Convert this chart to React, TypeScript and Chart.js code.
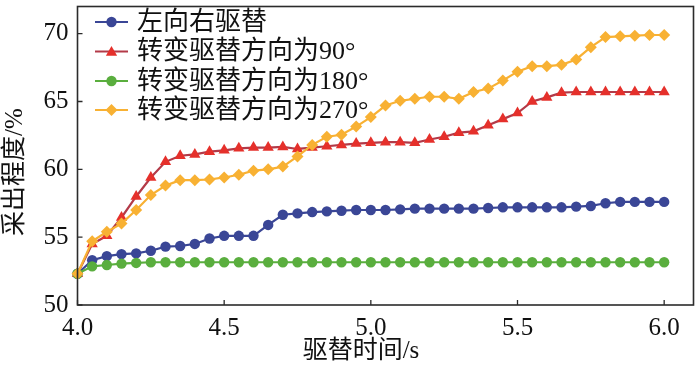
import React, { useEffect, useRef } from 'react';
import { Chart, registerables } from 'chart.js';

Chart.register(...registerables);

// ---- data ----
const timeS = [
  4.0, 4.05, 4.1, 4.15, 4.2, 4.25, 4.3, 4.35, 4.4, 4.45,
  4.5, 4.55, 4.6, 4.65, 4.7, 4.75, 4.8, 4.85, 4.9, 4.95,
  5.0, 5.05, 5.1, 5.15, 5.2, 5.25, 5.3, 5.35, 5.4, 5.45,
  5.5, 5.55, 5.6, 5.65, 5.7, 5.75, 5.8, 5.85, 5.9, 5.95, 6.0,
];

const seriesNames = ['左向右驱替', '转变驱替方向为90°', '转变驱替方向为180°', '转变驱替方向为270°'];

const leftToRight = [
  52.3, 53.3, 53.6, 53.75, 53.8, 54.0, 54.3, 54.35, 54.5, 54.9,
  55.1, 55.1, 55.1, 55.9, 56.65, 56.75, 56.85, 56.9, 56.95, 57.0,
  57.0, 57.0, 57.05, 57.1, 57.1, 57.1, 57.1, 57.1, 57.15, 57.2,
  57.2, 57.2, 57.2, 57.2, 57.25, 57.3, 57.5, 57.6, 57.6, 57.6, 57.6,
];

const turn90 = [
  52.3, 54.5, 55.1, 56.45, 58.0, 59.4, 60.55, 61.0, 61.1, 61.3,
  61.4, 61.55, 61.6, 61.6, 61.65, 61.5, 61.6, 61.7, 61.8, 61.9,
  61.95, 62.0, 62.0, 61.95, 62.2, 62.4, 62.7, 62.8, 63.25, 63.7,
  64.15, 65.0, 65.3, 65.65, 65.7, 65.7, 65.7, 65.7, 65.7, 65.7, 65.7,
];

const turn180 = [
  52.3, 52.85, 52.95, 53.05, 53.1, 53.15, 53.15, 53.15, 53.15, 53.15,
  53.15, 53.15, 53.15, 53.15, 53.15, 53.15, 53.15, 53.15, 53.15, 53.15,
  53.15, 53.15, 53.15, 53.15, 53.15, 53.15, 53.15, 53.15, 53.15, 53.15,
  53.15, 53.15, 53.15, 53.15, 53.15, 53.15, 53.15, 53.15, 53.15, 53.15, 53.15,
];

const turn270 = [
  52.3, 54.7, 55.4, 56.0, 57.0, 58.1, 58.8, 59.2, 59.2, 59.25,
  59.4, 59.6, 59.9, 60.0, 60.2, 60.95, 61.8, 62.4, 62.55, 63.15,
  63.85, 64.7, 65.05, 65.2, 65.35, 65.35, 65.2, 65.7, 65.95, 66.55,
  67.2, 67.6, 67.6, 67.7, 68.1, 69.0, 69.75, 69.8, 69.85, 69.9, 69.9,
];

const xTicks = [4.0, 4.5, 5.0, 5.5, 6.0];
const yTicks = [50, 55, 60, 65, 70];
const xTitle = '驱替时间/s';
const yTitle = '采出程度/%';

// ---- styles ----
const FONT_FAMILY = "'Liberation Serif', 'Times New Roman', 'Noto Sans CJK SC', serif";
const styles = [
  { line: '#3a4696', fill: '#3a4696', shape: 'circle', radius: 5.2 },
  { line: '#b33a48', fill: '#e5302b', shape: 'triangle', radius: 6.5 },
  { line: '#5aae3e', fill: '#5aae3e', shape: 'circle', radius: 5.2 },
  { line: '#f8b133', fill: '#f8b133', shape: 'rectRot', radius: 6 },
];
const seriesValues = [leftToRight, turn90, turn180, turn270];

function drawMarker(ctx: CanvasRenderingContext2D, shape: string, x: number, y: number, r: number, color: string) {
  ctx.save();
  ctx.fillStyle = color;
  ctx.beginPath();
  if (shape === 'circle') {
    ctx.arc(x, y, r, 0, Math.PI * 2);
  } else if (shape === 'triangle') {
    for (let k = 0; k < 3; k++) {
      const a = (k * 2 * Math.PI) / 3;
      const px = x + Math.sin(a) * r;
      const py = y - Math.cos(a) * r;
      if (k === 0) ctx.moveTo(px, py);
      else ctx.lineTo(px, py);
    }
    ctx.closePath();
  } else {
    ctx.moveTo(x, y - r);
    ctx.lineTo(x + r, y);
    ctx.lineTo(x, y + r);
    ctx.lineTo(x - r, y);
    ctx.closePath();
  }
  ctx.fill();
  ctx.restore();
}

const decorPlugin = {
  id: 'decor',
  afterDraw(chart: any) {
    const ctx: CanvasRenderingContext2D = chart.ctx;
    const area = chart.chartArea;
    const xs = chart.scales.x;
    const ys = chart.scales.y;
    ctx.save();
    // frame
    ctx.strokeStyle = '#2b2b2b';
    ctx.lineWidth = 1.6;
    ctx.strokeRect(area.left, area.top, area.right - area.left, area.bottom - area.top);
    // inward ticks
    ctx.beginPath();
    xTicks.forEach((t) => {
      const px = xs.getPixelForValue(t);
      ctx.moveTo(px, area.bottom);
      ctx.lineTo(px, area.bottom - 5);
    });
    yTicks.forEach((t) => {
      const py = ys.getPixelForValue(t);
      ctx.moveTo(area.left, py);
      ctx.lineTo(area.left + 5, py);
    });
    ctx.lineWidth = 1.3;
    ctx.stroke();

    // axis titles
    ctx.fillStyle = '#111';
    ctx.font = `25px ${FONT_FAMILY}`;
    ctx.textAlign = 'center';
    ctx.textBaseline = 'middle';
    ctx.fillText(xTitle, 361, 351);
    ctx.save();
    ctx.translate(15, 172);
    ctx.rotate(-Math.PI / 2);
    ctx.fillText(yTitle, 0, 0);
    ctx.restore();

    // legend
    const rowY = [22, 51.5, 81, 110];
    ctx.font = `26px ${FONT_FAMILY}`;
    ctx.textAlign = 'left';
    seriesNames.forEach((name, i) => {
      const s = styles[i];
      const y = rowY[i];
      ctx.beginPath();
      ctx.strokeStyle = s.line;
      ctx.lineWidth = 2.2;
      ctx.moveTo(95, y);
      ctx.lineTo(128, y);
      ctx.stroke();
      drawMarker(ctx, s.shape, 111.5, y + (s.shape === 'triangle' ? 1 : 0), s.radius, s.fill);
      ctx.fillStyle = '#111';
      ctx.fillText(name, 137, y + 1);
    });
    ctx.restore();
  },
};

export default function App() {
  const canvasRef = useRef<HTMLCanvasElement | null>(null);

  useEffect(() => {
    const canvas = canvasRef.current;
    if (!canvas) return;
    const datasets = seriesValues.map((vals, i) => ({
      label: seriesNames[i],
      data: timeS.map((t, k) => ({ x: t, y: vals[k] })),
      borderColor: styles[i].line,
      backgroundColor: styles[i].fill,
      pointBackgroundColor: styles[i].fill,
      pointBorderColor: styles[i].fill,
      pointBorderWidth: 0,
      pointStyle: styles[i].shape,
      pointRadius: styles[i].radius,
      borderWidth: 2.2,
      tension: 0,
      clip: false,
      order: [3, 2, 1, 0][i],
    }));

    const chart = new Chart(canvas, {
      type: 'line',
      data: { datasets },
      options: {
        animation: false,
        responsive: false,
        devicePixelRatio: 1,
        layout: { padding: { top: 2, right: 5, left: 0, bottom: 0 } },
        plugins: {
          legend: { display: false },
          tooltip: { enabled: false },
        },
        scales: {
          x: {
            type: 'linear',
            min: 4.0,
            max: 6.1,
            afterFit: (scale: any) => {
              scale.height = 60;
              scale.paddingLeft = 0;
              scale.paddingRight = 0;
              scale.paddingTop = 0;
              scale.paddingBottom = 0;
            },
            afterBuildTicks: (scale: any) => {
              scale.ticks = xTicks.map((v) => ({ value: v }));
            },
            grid: { display: false, drawTicks: false },
            border: { display: false },
            ticks: {
              padding: 8,
              color: '#111',
              font: { family: FONT_FAMILY, size: 25 },
              callback: (v: any) => Number(v).toFixed(1),
              maxRotation: 0,
            },
          },
          y: {
            type: 'linear',
            min: 50,
            max: 72,
            afterFit: (scale: any) => {
              scale.width = 77.5;
              scale.paddingLeft = 0;
              scale.paddingRight = 0;
              scale.paddingTop = 0;
              scale.paddingBottom = 0;
            },
            afterBuildTicks: (scale: any) => {
              scale.ticks = yTicks.map((v) => ({ value: v }));
            },
            grid: { display: false, drawTicks: false },
            border: { display: false },
            ticks: {
              padding: 9,
              color: '#111',
              font: { family: FONT_FAMILY, size: 25 },
              callback: (v: any) => String(v),
            },
          },
        },
      },
      plugins: [decorPlugin],
    });
    return () => chart.destroy();
  }, []);

  return (
    <div style={{ position: 'absolute', left: 0, top: 0, width: 700, height: 365, background: '#fff' }}>
      <canvas ref={canvasRef} width={700} height={365} style={{ display: 'block', width: 700, height: 365 }} />
    </div>
  );
}
